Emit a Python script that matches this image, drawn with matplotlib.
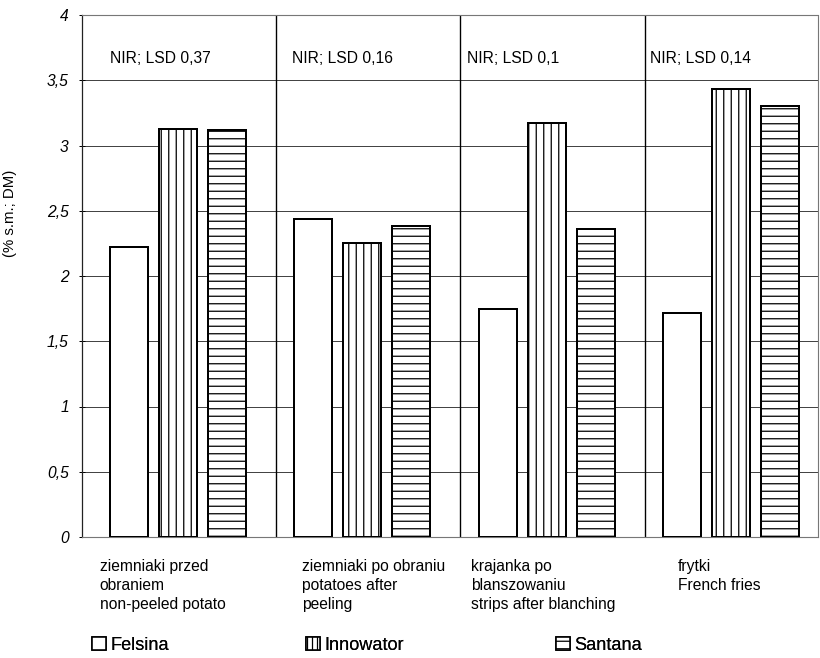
import matplotlib
matplotlib.use("Agg")
import matplotlib.pyplot as plt
import matplotlib.transforms as mtransforms
from matplotlib.patches import Patch
import numpy as np

# ---- data -------------------------------------------------------------
categories = [
    "ziemniaki przed\nobraniem\nnon-peeled potato",
    "ziemniaki po obraniu\npotatoes after\npeeling",
    "krajanka po\nblanszowaniu\nstrips after blanching",
    "frytki\nFrench fries",
]
varieties = ["Felsina", "Innowator", "Santana"]
felsina = [2.22, 2.44, 1.75, 1.72]
innowator = [3.13, 2.25, 3.17, 3.43]
santana = [3.12, 2.38, 2.36, 3.30]
lsd_labels = ["NIR; LSD 0,37", "NIR; LSD 0,16", "NIR; LSD 0,1", "NIR; LSD 0,14"]
y_ticks = [0, 0.5, 1, 1.5, 2, 2.5, 3, 3.5, 4]
y_tick_labels = ["0", "0,5", "1", "1,5", "2", "2,5", "3", "3,5", "4"]

# ---- style ------------------------------------------------------------
plt.rcParams["font.family"] = ["Liberation Sans", "DejaVu Sans"]
plt.rcParams["hatch.linewidth"] = 1.0
plt.rcParams["hatch.color"] = "black"

DPI = 90
fig = plt.figure(figsize=(820 / DPI, 658 / DPI), dpi=DPI)
ax = fig.add_axes([82 / 820, 121 / 658, 736 / 820, 522 / 658])

x = np.arange(len(categories))
offsets = [-0.265, 0.0, 0.265]
width = 0.206
hatches = ["", "||", "--"]
legend_hatches = ["", "|||", "--"]
series = [felsina, innowator, santana]

for vals, off, h, name in zip(series, offsets, hatches, varieties):
    ax.bar(x + off, vals, width, facecolor="white", edgecolor="black",
           linewidth=1.6, hatch=h, label=name, zorder=3)

ax.set_xlim(-0.52, 3.47)
ax.set_ylim(0, 4)

# horizontal gridlines
ax.set_yticks(y_ticks)
ax.set_yticklabels(y_tick_labels, fontstyle="italic", fontsize=12.5)
ax.yaxis.grid(True, color="#444444", linewidth=0.8, zorder=0)
ax.tick_params(axis="y", direction="inout", length=5, width=0.8, pad=8)
ax.set_xticks([])

# vertical separators between product groups
for sep in x[:-1] + 0.53:
    ax.axvline(sep, color="black", linewidth=1.1, zorder=2)

# frame
ax.spines["left"].set_color("#222222")
ax.spines["left"].set_linewidth(1.0)
for s in ["top", "right", "bottom"]:
    ax.spines[s].set_color("#777777")
    ax.spines[s].set_linewidth(0.9)
    ax.spines[s].set_linestyle((0, (1, 1)))

# LSD annotations
lsd_x = [-0.37, 0.62, 1.565, 2.56]
for lx, txt in zip(lsd_x, lsd_labels):
    ax.text(lx, 3.67, txt, fontsize=12.5, ha="left", va="center", zorder=4)

# category labels beneath the axis
trans = mtransforms.blended_transform_factory(ax.transData, ax.transAxes)
label_x = [-0.425, 0.675, 1.59, 2.71]
for lx, txt in zip(label_x, categories):
    ax.text(lx, -0.042, txt, transform=trans, fontsize=12.5, ha="left",
            va="top", linespacing=1.32, multialignment="left")

# axis title
ax.set_ylabel("(% s.m.; DM)", fontsize=12)
ax.yaxis.set_label_coords(-0.088, 0.62)

# legend entries spread across the bottom
legend_x = [92 / 820, 306 / 820, 556 / 820]
for lx, h, name in zip(legend_x, legend_hatches, varieties):
    handle = Patch(facecolor="white", edgecolor="black", hatch=h,
                   linewidth=1.3, label=name)
    leg = fig.legend(handles=[handle], loc="center left",
                     bbox_to_anchor=(lx, 1 - 645 / 658), frameon=False,
                     fontsize=14.5, handlelength=0.75, handleheight=0.75,
                     handletextpad=0.25, borderpad=0, borderaxespad=0)
    fig.add_artist(leg)

fig.savefig("out.png", dpi=DPI)
